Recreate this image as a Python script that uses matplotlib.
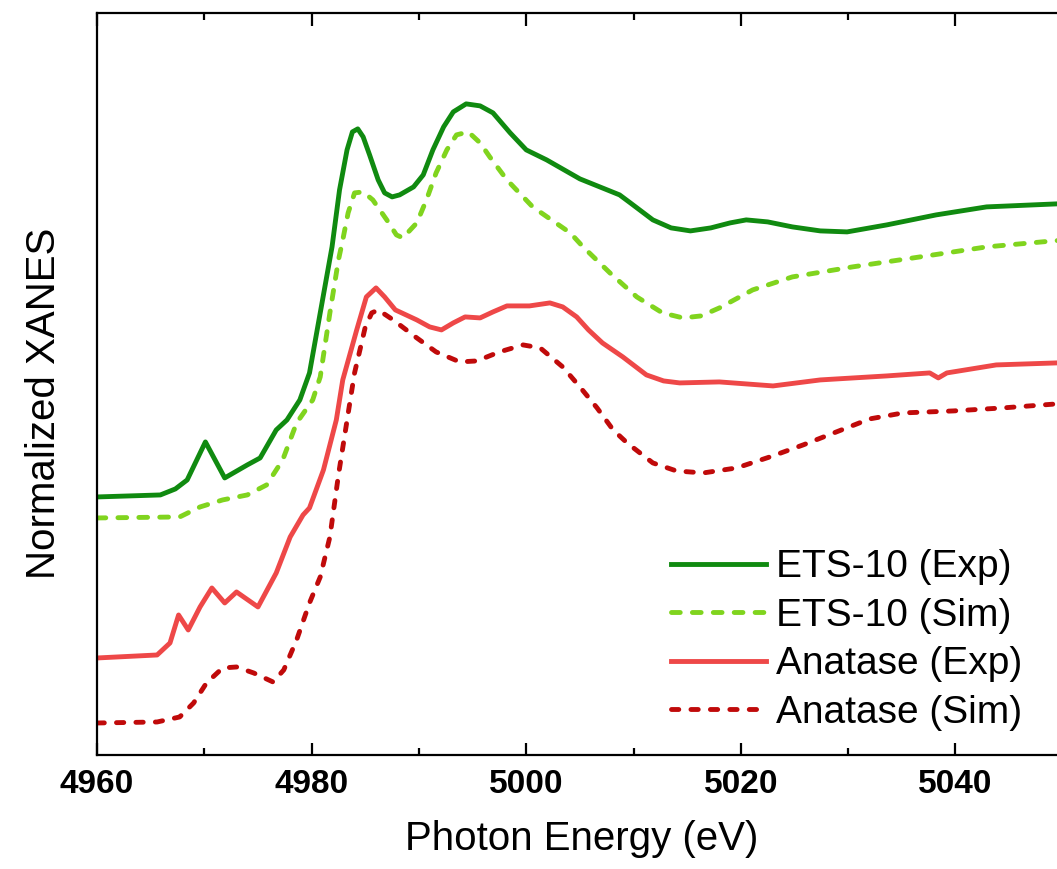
import matplotlib.pyplot as plt
from matplotlib.ticker import MultipleLocator

plt.rcParams['font.family'] = ['Liberation Sans', 'DejaVu Sans']

# ETS-10 experimental
ets_exp_e = [4960.0, 4965.9, 4967.3, 4968.4, 4970.1, 4971.9, 4974.0, 4975.2, 4976.7, 4977.7,
             4978.9, 4979.8, 4981.1, 4981.9, 4982.6, 4983.3, 4983.8, 4984.3, 4984.8, 4985.4,
             4986.2, 4986.8, 4987.5, 4988.2, 4989.5, 4990.4, 4991.3, 4992.3, 4993.2, 4994.4,
             4995.7, 4996.9, 4998.5, 5000.0, 5001.9, 5005.0, 5008.7, 5009.7, 5011.8, 5013.5,
             5015.3, 5017.2, 5019.0, 5020.5, 5022.5, 5024.8, 5027.4, 5029.9, 5033.6, 5038.2,
             5042.9, 5049.4, 5054.0]
ets_exp_y = [2.58, 2.60, 2.66, 2.75, 3.13, 2.77, 2.90, 2.97, 3.25, 3.35,
             3.55, 3.82, 4.60, 5.08, 5.65, 6.05, 6.23, 6.26, 6.18, 6.00,
             5.75, 5.62, 5.58, 5.60, 5.68, 5.80, 6.05, 6.28, 6.43, 6.51,
             6.49, 6.42, 6.22, 6.05, 5.95, 5.76, 5.60, 5.52, 5.35, 5.27,
             5.24, 5.27, 5.32, 5.35, 5.33, 5.28, 5.24, 5.23, 5.30, 5.40,
             5.48, 5.51, 5.52]

# ETS-10 simulated
ets_sim_e = [4960.0, 4967.7, 4969.6, 4971.7, 4974.0, 4975.8, 4977.3, 4978.6, 4980.1, 4980.8,
             4981.7, 4982.5, 4982.9, 4983.4, 4984.0, 4984.8, 4985.7, 4987.0, 4987.9, 4988.5,
             4989.8, 4990.7, 4991.6, 4992.6, 4993.5, 4994.6, 4995.7, 4996.6, 4998.2, 5000.6,
             5004.1, 5005.3, 5007.8, 5010.3, 5012.7, 5014.6, 5016.3, 5018.0, 5021.1, 5024.8,
             5030.4, 5036.7, 5042.9, 5049.1, 5054.0]
ets_sim_y = [2.37, 2.38, 2.48, 2.55, 2.60, 2.70, 2.95, 3.32, 3.55, 3.78,
             4.42, 4.95, 5.15, 5.42, 5.62, 5.63, 5.55, 5.35, 5.20, 5.17,
             5.32, 5.55, 5.82, 6.05, 6.20, 6.23, 6.12, 5.98, 5.75, 5.48,
             5.22, 5.08, 4.82, 4.58, 4.42, 4.37, 4.39, 4.47, 4.65, 4.78,
             4.88, 4.98, 5.08, 5.14, 5.18]

# Anatase experimental
ana_exp_e = [4960.0, 4965.6, 4966.8, 4967.6, 4968.5, 4969.6, 4970.7, 4971.9, 4973.0, 4975.0,
             4976.7, 4978.0, 4979.2, 4979.8, 4981.1, 4982.3, 4982.9, 4984.2, 4985.1, 4986.0,
             4986.8, 4987.8, 4989.8, 4991.0, 4992.1, 4993.2, 4994.3, 4995.7, 4996.9, 4998.2,
             5000.3, 5002.2, 5003.4, 5004.7, 5005.8, 5007.1, 5009.0, 5011.2, 5012.8, 5014.3,
             5018.0, 5023.0, 5027.4, 5033.6, 5037.6, 5038.4, 5039.2, 5043.8, 5049.4, 5054.0]
ana_exp_y = [0.97, 1.00, 1.12, 1.40, 1.25, 1.48, 1.67, 1.52, 1.63, 1.48,
             1.82, 2.18, 2.40, 2.47, 2.85, 3.35, 3.75, 4.25, 4.58, 4.67,
             4.58, 4.45, 4.35, 4.28, 4.25, 4.32, 4.38, 4.37, 4.43, 4.49,
             4.49, 4.52, 4.48, 4.38, 4.25, 4.12, 3.98, 3.80, 3.74, 3.72,
             3.73, 3.69, 3.75, 3.79, 3.82, 3.77, 3.82, 3.90, 3.92, 3.93]

# Anatase simulated
ana_sim_e = [4960.0, 4965.6, 4967.7, 4969.0, 4970.2, 4971.7, 4973.0, 4974.6, 4976.4, 4977.4,
             4978.6, 4979.8, 4980.8, 4981.7, 4982.5, 4983.6, 4984.0, 4984.5, 4985.0, 4985.6,
             4986.2, 4987.6, 4989.8, 4991.6, 4993.8, 4995.4, 4997.5, 4999.7, 5001.3, 5003.4,
             5005.0, 5006.6, 5008.1, 5009.4, 5011.8, 5014.0, 5016.5, 5019.6, 5022.7, 5025.8,
             5028.9, 5032.0, 5035.1, 5039.8, 5044.4, 5049.4, 5054.0]
ana_sim_y = [0.32, 0.33, 0.38, 0.52, 0.72, 0.87, 0.88, 0.82, 0.73, 0.85,
             1.15, 1.52, 1.78, 2.18, 2.80, 3.55, 3.82, 4.05, 4.28, 4.42,
             4.45, 4.35, 4.17, 4.03, 3.93, 3.94, 4.03, 4.10, 4.07, 3.88,
             3.68, 3.47, 3.25, 3.12, 2.92, 2.84, 2.82, 2.87, 2.98, 3.10,
             3.23, 3.36, 3.42, 3.44, 3.47, 3.51, 3.53]

fig = plt.figure(figsize=(10.57, 8.69), dpi=100)
ax = fig.add_axes([0.0918, 0.1312, 0.9167, 0.854])

lw = 3.5
ax.plot(ets_exp_e, ets_exp_y, color='#108a10', lw=lw, solid_joinstyle='round', label='ETS-10 (Exp)')
ax.plot(ets_sim_e, ets_sim_y, color='#80d41e', lw=lw, ls=(0, (1.8, 2.5)), dash_capstyle='round',
        label='ETS-10 (Sim)')
ax.plot(ana_exp_e, ana_exp_y, color='#ee4848', lw=lw, solid_joinstyle='round', label='Anatase (Exp)')
ax.plot(ana_sim_e, ana_sim_y, color='#c00a0a', lw=lw, ls=(0, (1.5, 2.5)), dash_capstyle='round',
        label='Anatase (Sim)')

ax.set_xlim(4960, 5050.3)
ax.set_ylim(0, 7.42)
ax.xaxis.set_major_locator(MultipleLocator(20))
ax.xaxis.set_minor_locator(MultipleLocator(10))
ax.set_yticks([])
ax.tick_params(axis='x', which='both', direction='in', top=True, width=1.6, labelsize=24, pad=10)
ax.tick_params(axis='x', which='major', length=9)
ax.tick_params(axis='x', which='minor', length=5)
for lab in ax.get_xticklabels():
    lab.set_fontweight('bold')
for s in ax.spines.values():
    s.set_linewidth(1.6)

ax.set_xlabel('Photon Energy (eV)', fontsize=29)
ax.xaxis.set_label_coords(0.5, -0.088)
ax.set_ylabel('Normalized XANES', fontsize=29)
ax.yaxis.set_label_coords(-0.035, 0.474)

ax.legend(loc='upper left', bbox_to_anchor=(0.592, 0.277), frameon=False, fontsize=28,
          borderaxespad=0, borderpad=0, handlelength=2.45, handletextpad=0.26, labelspacing=0.32)

plt.savefig('out.png', dpi=100)
